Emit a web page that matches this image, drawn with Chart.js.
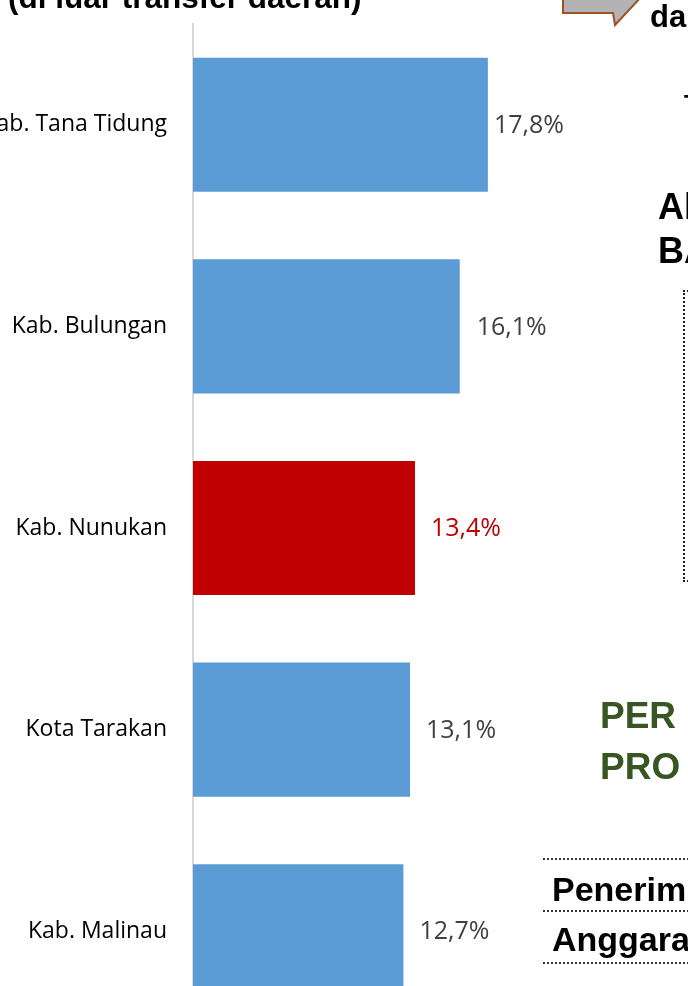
<!DOCTYPE html>
<html>
<head>
<meta charset="utf-8">
<script src="https://cdn.jsdelivr.net/npm/chart.js@4"></script>
<style>
  html, body { margin: 0; padding: 0; background: #fff; }
  body { width: 688px; height: 986px; overflow: hidden; position: relative; font-family: "Liberation Sans", Arial, sans-serif; }
  #wrap { position: absolute; left: 0; top: 0; width: 690px; height: 1032px; }
  .txt { position: absolute; white-space: nowrap; font-weight: bold; color: #000; }
  .dots { position: absolute; border-top: 2px dotted #333; }
</style>
</head>
<body>
<div id="wrap"><canvas id="barChart" width="690" height="1032"></canvas></div>

<!-- bits of the surrounding slide -->
<div class="txt" style="left:8px; top:-21px; font-size:31.5px;">(di luar transfer daerah)</div>
<svg style="position:absolute; left:0; top:0;" width="688" height="40">
  <polygon points="563,-4 563,13 613,13 615,25 642,-4" fill="#b3b3b3" stroke="#9c5224" stroke-width="2"/>
</svg>
<div class="txt" style="left:650px; top:-1px; font-size:31px;">da</div>
<div class="txt" style="left:684px; top:92px; font-size:24px; line-height:24px;">T</div>
<div class="txt" style="left:658px; top:185px; font-size:36px; line-height:44px;">Al<br>BA</div>
<div style="position:absolute; left:683px; top:290px; width:30px; height:288px; border:2px dotted #222;"></div>
<div class="txt" style="left:600px; top:690px; font-size:37px; line-height:51px; color:#375623;">PER<br>PRO</div>
<div class="dots" style="left:543px; top:858px; width:150px;"></div>
<div class="txt" style="left:552px; top:870px; font-size:34px;">Penerim</div>
<div class="dots" style="left:543px; top:910px; width:150px;"></div>
<div class="txt" style="left:552px; top:920px; font-size:34px;">Anggara</div>
<div class="dots" style="left:543px; top:962px; width:150px;"></div>

<script>
    // --- Data ---
    const regions = ['Kab. Tana Tidung', 'Kab. Bulungan', 'Kab. Nunukan', 'Kota Tarakan', 'Kab. Malinau'];
    const shares = [17.8, 16.1, 13.4, 13.1, 12.7];
    const highlight = 'Kab. Nunukan';

    const blue = '#5b9bd5';
    const red = '#c00000';
    const barColors = regions.map(r => r === highlight ? red : blue);
    const labelColors = regions.map(r => r === highlight ? red : '#404040');
    // gap between bar end and its value label (first one was nudged in on the slide)
    const labelGap = [6, 17, 16, 16, 16];

    // small value-label plugin (no datalabels plugin offline)
    const valueLabels = {
        id: 'valueLabels',
        afterDatasetsDraw(chart) {
            const ctx = chart.ctx;
            const meta = chart.getDatasetMeta(0);
            ctx.save();
            ctx.font = '25px "Open Sans", "Noto Sans", sans-serif';
            ctx.textAlign = 'left';
            ctx.textBaseline = 'middle';
            meta.data.forEach((bar, i) => {
                ctx.fillStyle = labelColors[i];
                ctx.fillText(shares[i].toFixed(1).replace('.', ',') + '%', bar.x + labelGap[i], bar.y + 1);
            });
            ctx.restore();
        }
    };

    const ctx = document.getElementById('barChart').getContext('2d');
    new Chart(ctx, {
        type: 'bar',
        data: {
            labels: regions,
            datasets: [{ data: shares, backgroundColor: barColors, barPercentage: 0.665, categoryPercentage: 1 }]
        },
        options: {
            indexAxis: 'y',
            responsive: false,
            animation: false,
            layout: { padding: { top: 24, right: 0, bottom: 0, left: 0 } },
            plugins: { legend: { display: false }, tooltip: { enabled: false } },
            scales: {
                x: { display: false, min: 0, max: 30 },
                y: {
                    grid: { display: false, drawTicks: false },
                    border: { display: true, color: '#d9d9d9', width: 2 },
                    ticks: { color: '#000', padding: 26, font: { family: '"Open Sans", "Noto Sans", sans-serif', size: 23 } },
                    afterFit: scale => {
                        scale.width = 193;
                        // label padding would otherwise shrink the plot vertically
                        scale.paddingTop = 0;
                        scale.paddingBottom = 0;
                    }
                }
            }
        },
        plugins: [valueLabels]
    });
</script>
</body>
</html>
